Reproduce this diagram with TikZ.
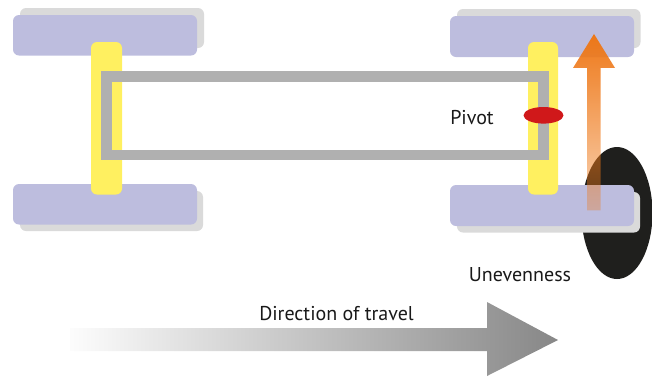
\documentclass[tikz,border=0pt]{standalone}
\usepackage{fontspec}
\setmainfont{PT Sans}
\usetikzlibrary{fadings}
\definecolor{tyre}{HTML}{BDBDDE}
\definecolor{shade}{HTML}{DADADA}
\definecolor{axle}{HTML}{FFF060}
\definecolor{frame}{HTML}{B0B0B0}
\definecolor{pivotred}{HTML}{D0181A}
\definecolor{bump}{HTML}{1F1F1D}
\definecolor{orangetop}{HTML}{EE7818}
\tikzfading[name=risefade, top color=transparent!0, bottom color=transparent!68]
\tikzset{
  x=1pt,y=-1pt,
  tyrebox/.style={fill=tyre,rounded corners=6pt},
  shadowbox/.style={fill=shade,rounded corners=6pt},
  axlebox/.style={fill=axle,rounded corners=6pt},
  chassis/.style={draw=frame,line width=10.6pt,line join=miter},
  lab/.style={font=\fontsize{20}{22}\selectfont,text=black!90,inner sep=0pt}
}
\begin{document}
\begin{tikzpicture}
\useasboundingbox (0,0) rectangle (652,376);
% left axle
\fill[shadowbox] (20,8) rectangle (204,48);
\fill[tyrebox] (13,15) rectangle (197,55.5);
\fill[shadowbox] (20,191) rectangle (203,231);
\fill[tyrebox] (13,184) rectangle (197,224.5);
\fill[axlebox] (91,42) rectangle (122,194.5);
% right axle
\fill[bump] (617,213) ellipse [x radius=35.5,y radius=66];
\fill[shadowbox] (457,9) rectangle (640.5,48);
\fill[tyrebox] (450,16) rectangle (634,57);
\fill[shadowbox] (457,192) rectangle (640,232.5);
\fill[tyrebox] (450,185) rectangle (634,226);
\fill[axlebox] (528,42) rectangle (558,194.5);
% chassis
\draw[chassis] (106.3,76.3) -- (543.7,76.3) -- (543.7,155) -- (106.3,155) -- cycle;
\fill[pivotred] (543.5,115.3) ellipse [x radius=20,y radius=8.3];
% lift arrow
\fill[orangetop,path fading=risefade]
  (587,210.5) -- (587,68) -- (573,68) -- (594,34) -- (615,68) -- (600.5,68) -- (600.5,210.5) -- cycle;
% travel arrow
\shade[left color=black!1,right color=black!47,shading angle=90,draw=none]
  (70,328) -- (487,328) -- (487,302) -- (558,340) -- (487,376) -- (487,351) -- (70,351) -- cycle;
\node[lab,anchor=base] (pivot) at (472,124) {Pivot};
\node[lab,anchor=base] (uneven) at (520,281) {Unevenness};
\node[lab,anchor=base] (travel) at (336.5,320) {Direction of travel};
\end{tikzpicture}
\end{document}
